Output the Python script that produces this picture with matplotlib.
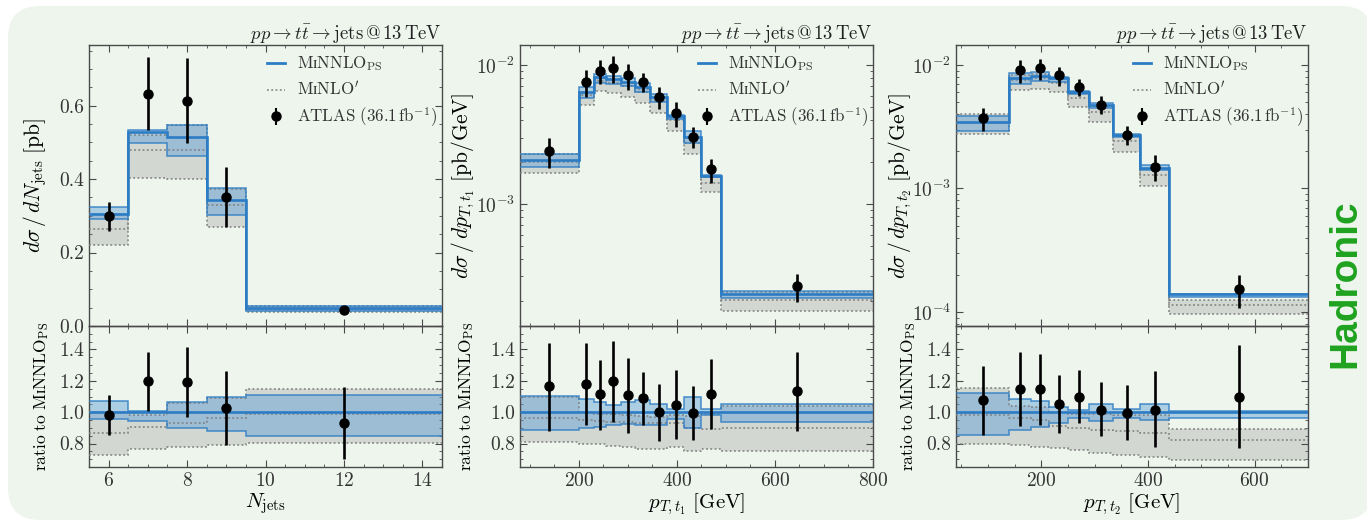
import numpy as np
import matplotlib
matplotlib.use("Agg")
import matplotlib.pyplot as plt
from matplotlib.patches import FancyBboxPatch
from matplotlib.lines import Line2D
from matplotlib.ticker import MultipleLocator, LogLocator, NullFormatter

plt.rcParams.update({
    "font.family": "serif",
    "font.serif": ["cmr10", "DejaVu Serif"],
    "mathtext.fontset": "cm",
    "axes.formatter.use_mathtext": True,
    "axes.unicode_minus": False,
})

# ---------------- N_jets ----------------
njets_edges = [5.5, 6.5, 7.5, 8.5, 9.5, 14.5]
njets_centres = [6, 7, 8, 9, 12]
njets_nnlo = [0.304, 0.528, 0.515, 0.342, 0.048]          # MiNNLO_PS central [pb]
njets_nnlo_lo = [0.955, 0.944, 0.900, 0.880, 0.850]       # ratios to MiNNLO_PS central
njets_nnlo_hi = [1.069, 1.009, 1.062, 1.096, 1.107]
njets_nlo = [0.865, 0.908, 0.932, 0.960, 0.990]
njets_nlo_lo = [0.725, 0.765, 0.775, 0.790, 0.805]
njets_nlo_hi = [1.000, 0.985, 1.060, 1.090, 1.145]
njets_data = [0.983, 1.197, 1.190, 1.026, 0.930]
njets_data_lo = [0.855, 1.009, 0.966, 0.790, 0.700]
njets_data_hi = [1.110, 1.385, 1.415, 1.265, 1.158]

# ---------------- pT, t1 ----------------
pt1_edges = [80, 200, 230, 255, 285, 315, 345, 380, 415, 450, 490, 800]
pt1_centres = [140, 215, 242.5, 270, 300, 330, 362.5, 397.5, 432.5, 470, 645]
pt1_nnlo = [2.07e-3, 6.42e-3, 8.15e-3, 7.93e-3, 7.58e-3, 6.9e-3, 5.9e-3,
            4.3e-3, 3.05e-3, 1.58e-3, 2.24e-4]
pt1_nnlo_lo = [0.887, 0.897, 0.908, 0.919, 0.925, 0.919, 0.918, 0.955, 0.900, 0.985, 0.936]
pt1_nnlo_hi = [1.105, 1.083, 1.062, 1.045, 1.062, 1.075, 1.050, 1.020, 1.100, 1.020, 1.054]
pt1_nlo = [0.965, 0.950, 0.945, 0.940, 0.935, 0.930, 0.930, 0.930, 0.900, 0.895, 0.900]
pt1_nlo_lo = [0.807, 0.797, 0.795, 0.785, 0.775, 0.765, 0.765, 0.780, 0.750, 0.765, 0.750]
pt1_nlo_hi = [1.100, 1.000, 0.990, 0.990, 0.980, 0.975, 0.970, 0.985, 0.975, 0.990, 1.040]
pt1_data = [1.165, 1.178, 1.113, 1.197, 1.111, 1.090, 1.000, 1.047, 0.994, 1.118, 1.135]
pt1_data_lo = [0.880, 0.915, 0.887, 0.936, 0.865, 0.920, 0.814, 0.829, 0.820, 0.893, 0.880]
pt1_data_hi = [1.440, 1.440, 1.330, 1.455, 1.347, 1.257, 1.180, 1.267, 1.165, 1.338, 1.385]

# ---------------- pT, t2 ----------------
pt2_edges = [40, 140, 180, 215, 250, 290, 335, 385, 440, 700]
pt2_centres = [90, 160, 197.5, 232.5, 270, 312.5, 360, 412.5, 570]
pt2_nnlo = [3.45e-3, 7.9e-3, 8.2e-3, 7.8e-3, 6.0e-3, 4.7e-3, 2.73e-3, 1.47e-3, 1.39e-4]
pt2_nnlo_lo = [0.852, 0.888, 0.903, 0.930, 0.963, 0.946, 0.963, 0.953, 0.960]
pt2_nnlo_hi = [1.125, 1.086, 1.070, 1.030, 1.017, 1.054, 1.020, 1.050, 1.010]
pt2_nlo = [0.980, 0.963, 0.950, 0.910, 0.900, 0.888, 0.880, 0.867, 0.824]
pt2_nlo_lo = [0.800, 0.790, 0.780, 0.770, 0.760, 0.738, 0.727, 0.716, 0.695]
pt2_nlo_hi = [1.157, 1.040, 1.030, 1.000, 0.990, 0.990, 0.980, 0.980, 0.895]
pt2_data = [1.075, 1.146, 1.146, 1.054, 1.099, 1.017, 0.996, 1.017, 1.097]
pt2_data_lo = [0.852, 0.910, 0.920, 0.867, 0.931, 0.845, 0.820, 0.776, 0.770]
pt2_data_hi = [1.297, 1.383, 1.372, 1.239, 1.271, 1.194, 1.172, 1.260, 1.426]

TITLE = r"$pp\to t\bar{t}\to \mathrm{jets}\,@\,13\,\mathrm{TeV}$"
LBL_NNLO = r"$\mathrm{M}\mathrm{ɪ}\mathrm{NNLO}_{\mathrm{PS}}$"
LBL_NLO = r"$\mathrm{M}\mathrm{ɪ}\mathrm{NLO}'$"
LBL_DATA = r"$\mathrm{ATLAS}\ (36.1\,\mathrm{fb}^{-1})$"
RATIO_LBL = r"$\mathrm{ratio\ to\ M}\mathrm{ɪ}\mathrm{NNLO}_{\mathrm{PS}}$"

BLUE = "#2b7cc4"
BLUE_FILL = "#5d9fd8"
GREY_FILL = "#9a9a9a"
GREY_LINE = "#7d7d7d"
FRAME = "#4a4a4a"

W, H = 1367, 526
fig = plt.figure(figsize=(W / 100, H / 100), dpi=100)
fig.patch.set_facecolor("white")
bg = FancyBboxPatch((0.08, 0.06), 13.65, 5.14,
                    boxstyle="round,pad=0,rounding_size=0.32",
                    transform=fig.dpi_scale_trans, facecolor="#edf5ed",
                    edgecolor="none", zorder=-10)
fig.patches.append(bg)


def px_axes(x0, x1, ytop, ybot):
    return fig.add_axes([x0 / W, 1 - ybot / H, (x1 - x0) / W, (ybot - ytop) / H])


def draw_theory(ax, edges, scale, nnlo_lo, nnlo_hi, nlo, nlo_lo, nlo_hi):
    s = np.asarray(scale, float)
    ax.stairs(np.asarray(nlo_hi) * s, edges, baseline=np.asarray(nlo_lo) * s,
              fill=True, color=GREY_FILL, alpha=0.32, lw=0, zorder=1)
    ax.stairs(np.asarray(nnlo_hi) * s, edges, baseline=np.asarray(nnlo_lo) * s,
              fill=True, color=BLUE_FILL, alpha=0.45, lw=0, zorder=2)
    for arr in (nlo_lo, nlo_hi, nlo):
        ax.stairs(np.asarray(arr) * s, edges, baseline=None, color=GREY_LINE,
                  ls=(0, (1.2, 1.6)), lw=1.1, zorder=3)
    for arr in (nnlo_lo, nnlo_hi):
        ax.stairs(np.asarray(arr) * s, edges, baseline=None, color=BLUE,
                  lw=1.1, alpha=0.85, zorder=4)
    ax.stairs(s, edges, baseline=None, color=BLUE, lw=1.9, zorder=5)


def draw_data(ax, x, scale, r, rlo, rhi):
    s = np.asarray(scale, float)
    y = np.asarray(r) * s
    lo = y - np.asarray(rlo) * s
    hi = np.asarray(rhi) * s - y
    ax.errorbar(x, y, yerr=[lo, hi], fmt="o", color="black", ms=6.5,
                elinewidth=1.9, capsize=0, zorder=10)


def style(ax):
    for sp in ax.spines.values():
        sp.set_color(FRAME)
        sp.set_linewidth(1.0)
    ax.set_facecolor("none")
    ax.tick_params(which="both", direction="in", top=True, right=True,
                   colors=FRAME, labelcolor="#333333", labelsize=14)
    ax.tick_params(which="major", length=5)
    ax.tick_params(which="minor", length=2.5)


panels = [
    dict(x0=89, x1=442, edges=njets_edges, centres=njets_centres, nnlo=njets_nnlo,
         nnlo_lo=njets_nnlo_lo, nnlo_hi=njets_nnlo_hi, nlo=njets_nlo,
         nlo_lo=njets_nlo_lo, nlo_hi=njets_nlo_hi, data=njets_data,
         data_lo=njets_data_lo, data_hi=njets_data_hi, xlim=(5.5, 14.5),
         xmajor=2, xminor=0.5, log=False, ylim=(0.0, 0.765),
         ylabel=r"$d\sigma\,/\,dN_{\mathrm{jets}}\ [\mathrm{pb}]$",
         xlabel=r"$N_{\mathrm{jets}}$", ylab_x=-0.113, rlab_x=-0.108),
    dict(x0=520, x1=873, edges=pt1_edges, centres=pt1_centres, nnlo=pt1_nnlo,
         nnlo_lo=pt1_nnlo_lo, nnlo_hi=pt1_nnlo_hi, nlo=pt1_nlo,
         nlo_lo=pt1_nlo_lo, nlo_hi=pt1_nlo_hi, data=pt1_data,
         data_lo=pt1_data_lo, data_hi=pt1_data_hi, xlim=(80, 800),
         xmajor=200, xminor=50, log=True, ylim=(1.32e-4, 1.39e-2),
         ylabel=r"$d\sigma\,/\,dp_{T,t_1}\ [\mathrm{pb/GeV}]$",
         xlabel=r"$p_{T,t_1}\ [\mathrm{GeV}]$", ylab_x=-0.122, rlab_x=-0.125),
    dict(x0=956, x1=1308, edges=pt2_edges, centres=pt2_centres, nnlo=pt2_nnlo,
         nnlo_lo=pt2_nnlo_lo, nnlo_hi=pt2_nnlo_hi, nlo=pt2_nlo,
         nlo_lo=pt2_nlo_lo, nlo_hi=pt2_nlo_hi, data=pt2_data,
         data_lo=pt2_data_lo, data_hi=pt2_data_hi, xlim=(40, 700),
         xmajor=200, xminor=50, log=True, ylim=(7.7e-5, 1.45e-2),
         ylabel=r"$d\sigma\,/\,dp_{T,t_2}\ [\mathrm{pb/GeV}]$",
         xlabel=r"$p_{T,t_2}\ [\mathrm{GeV}]$", ylab_x=-0.119, rlab_x=-0.108),
]

for p in panels:
    ax = px_axes(p["x0"], p["x1"], 45, 326)
    rx = px_axes(p["x0"], p["x1"], 326, 467)
    ones = np.ones(len(p["nnlo"]))

    draw_theory(ax, p["edges"], p["nnlo"], p["nnlo_lo"], p["nnlo_hi"],
                p["nlo"], p["nlo_lo"], p["nlo_hi"])
    draw_data(ax, p["centres"], p["nnlo"], p["data"], p["data_lo"], p["data_hi"])
    draw_theory(rx, p["edges"], ones, p["nnlo_lo"], p["nnlo_hi"],
                p["nlo"], p["nlo_lo"], p["nlo_hi"])
    draw_data(rx, p["centres"], ones, p["data"], p["data_lo"], p["data_hi"])

    for a in (ax, rx):
        a.set_xlim(*p["xlim"])
        a.xaxis.set_major_locator(MultipleLocator(p["xmajor"]))
        a.xaxis.set_minor_locator(MultipleLocator(p["xminor"]))
        style(a)
    ax.tick_params(labelbottom=False)

    if p["log"]:
        ax.set_yscale("log")
        ax.yaxis.set_major_locator(LogLocator(base=10, numticks=10))
        ax.yaxis.set_minor_locator(LogLocator(base=10, subs=np.arange(2, 10), numticks=20))
        ax.yaxis.set_minor_formatter(NullFormatter())
    else:
        ax.yaxis.set_major_locator(MultipleLocator(0.2))
        ax.yaxis.set_minor_locator(MultipleLocator(0.05))
        ax.yaxis.set_major_formatter(matplotlib.ticker.FormatStrFormatter("%.1f"))
    ax.set_ylim(*p["ylim"])

    rx.set_ylim(0.65, 1.55)
    rx.yaxis.set_major_locator(MultipleLocator(0.2))
    rx.yaxis.set_minor_locator(MultipleLocator(0.05))
    rx.yaxis.set_major_formatter(matplotlib.ticker.FormatStrFormatter("%.1f"))

    ax.set_ylabel(p["ylabel"], fontsize=15.5)
    ax.yaxis.set_label_coords(p["ylab_x"], 0.5)
    rx.set_ylabel(RATIO_LBL, fontsize=12.5)
    rx.yaxis.set_label_coords(p["rlab_x"], 0.5)
    rx.set_xlabel(p["xlabel"], fontsize=15, labelpad=1)
    ax.set_title(TITLE, loc="right", fontsize=13.5, pad=4, color="#222222")

    handles = [
        Line2D([], [], color=BLUE, lw=2),
        Line2D([], [], color=GREY_LINE, lw=1.1, ls=(0, (1.2, 1.6))),
        matplotlib.container.ErrorbarContainer(
            (Line2D([], [], color="black", marker="o", ms=6.5, ls="none"), (),
             (matplotlib.collections.LineCollection([], color="black"),)),
            has_xerr=False, has_yerr=True),
    ]
    ax.legend(handles, [LBL_NNLO, LBL_NLO, LBL_DATA], loc="upper left",
              bbox_to_anchor=(0.485, 0.99), borderaxespad=0, frameon=False,
              fontsize=12.2, handlelength=1.05, handletextpad=0.7,
              labelspacing=0.4, labelcolor="#333333")

fig.text(1345 / W, 1 - 284 / H, "Hadronic", rotation=90, ha="center", va="center",
         fontsize=28, fontweight="bold", color="#1fa31f",
         family=["Liberation Sans", "DejaVu Sans"])

fig.savefig("out.png", dpi=100, facecolor="white")
